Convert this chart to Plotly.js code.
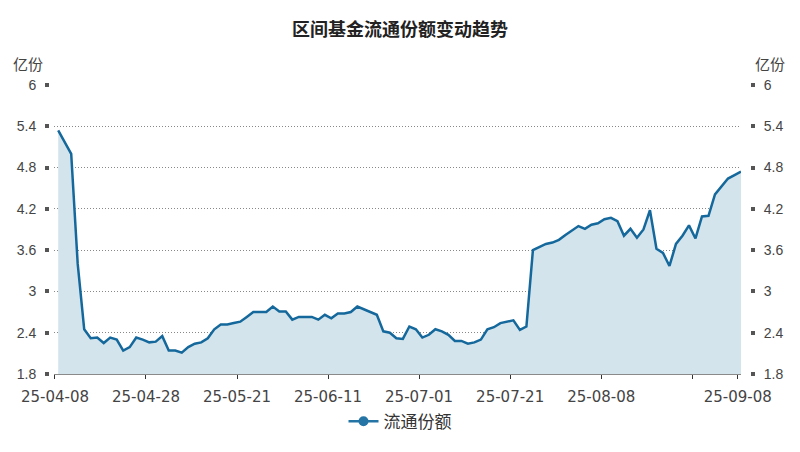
<!DOCTYPE html>
<html>
<head>
<meta charset="utf-8">
<script src="https://cdn.plot.ly/plotly-3.0.1.min.js"></script>
<style>html,body{margin:0;padding:0;background:#fff;}#chart{width:800px;height:452px;}</style>
</head>
<body>
<div id="chart"></div>
<script>
// trading dates (YY-MM-DD)
const dates = [
 "25-04-08","25-04-09","25-04-10","25-04-11","25-04-14","25-04-15","25-04-16","25-04-17","25-04-18","25-04-21",
 "25-04-22","25-04-23","25-04-24","25-04-25","25-04-28","25-04-29","25-04-30","25-05-06","25-05-07","25-05-08",
 "25-05-09","25-05-12","25-05-13","25-05-14","25-05-15","25-05-16","25-05-19","25-05-20","25-05-21","25-05-22",
 "25-05-23","25-05-26","25-05-27","25-05-28","25-05-29","25-05-30","25-06-03","25-06-04","25-06-05","25-06-06",
 "25-06-09","25-06-10","25-06-11","25-06-12","25-06-13","25-06-16","25-06-17","25-06-18","25-06-19","25-06-20",
 "25-06-23","25-06-24","25-06-25","25-06-26","25-06-27","25-06-30","25-07-01","25-07-02","25-07-03","25-07-04",
 "25-07-07","25-07-08","25-07-09","25-07-10","25-07-11","25-07-14","25-07-15","25-07-16","25-07-17","25-07-18",
 "25-07-21","25-07-22","25-07-23","25-07-24","25-07-25","25-07-28","25-07-29","25-07-30","25-07-31","25-08-01",
 "25-08-04","25-08-05","25-08-06","25-08-07","25-08-08","25-08-11","25-08-12","25-08-13","25-08-14","25-08-15",
 "25-08-18","25-08-19","25-08-20","25-08-21","25-08-22","25-08-25","25-08-26","25-08-27","25-08-28","25-08-29",
 "25-09-01","25-09-02","25-09-03","25-09-04","25-09-05","25-09-08"
];
// 流通份额 (亿份)
const shares = [
 5.34,5.17,5.00,3.40,2.45,2.32,2.33,2.25,2.33,2.30,
 2.14,2.19,2.33,2.30,2.26,2.27,2.35,2.14,2.14,2.11,
 2.19,2.24,2.26,2.32,2.45,2.52,2.52,2.54,2.56,2.63,
 2.70,2.70,2.70,2.78,2.71,2.71,2.59,2.63,2.63,2.63,
 2.59,2.66,2.61,2.68,2.68,2.70,2.78,2.74,2.70,2.66,
 2.42,2.40,2.32,2.31,2.49,2.45,2.33,2.37,2.45,2.42,
 2.37,2.28,2.28,2.24,2.26,2.30,2.45,2.48,2.54,2.56,
 2.58,2.44,2.49,3.60,3.65,3.69,3.71,3.75,3.82,3.88,
 3.95,3.91,3.97,3.99,4.05,4.07,4.02,3.81,3.91,3.78,
 3.90,4.18,3.62,3.56,3.37,3.69,3.81,3.96,3.77,4.09,
 4.10,4.41,4.53,4.64,4.69,4.74
];
const seriesName = "流通份额";
const titleText = "区间基金流通份额变动趋势";
const unitText = "亿份";
const xTickIdx = [0,14,28,42,56,70,84,98,105];
const xTickLabels = ["25-04-08","25-04-28","25-05-21","25-06-11","25-07-01","25-07-21","25-08-08","","25-09-08"];
const yTicks = [1.8,2.4,3,3.6,4.2,4.8,5.4,6];
const yTickLabels = ["1.8","2.4","3","3.6","4.2","4.8","5.4","6"];

const idx = dates.map((d,i)=>i);
const lineColor = "#15689b";
const font = "Liberation Sans, Arial, Noto Sans CJK SC, sans-serif";
const cjk = "Noto Sans CJK SC, sans-serif";

const traces = [
 {x: idx, y: shares, type:"scatter", mode:"lines", name: seriesName, showlegend:false,
  text: dates, hovertemplate:"%{text}: %{y}<extra></extra>",
  line:{color:lineColor, width:2.5}, fill:"tozeroy", fillcolor:"#d3e4ed"},
 {x: idx, y: shares, type:"scatter", mode:"lines", yaxis:"y2", showlegend:false, hoverinfo:"skip",
  line:{color:"rgba(0,0,0,0)", width:0}},
 {x:[null], y:[null], type:"scatter", mode:"lines+markers", name: seriesName,
  line:{color:"#2474a6", width:2.5}, marker:{color:"#2474a6", size:10}}
];

const L=44, R=44, T=85, B=76, PW=800-L-R, PH=452-T-B;
const px = v => (v-L)/PW;
const py = v => (452-B-v)/PH;

const yCommon = {
 range:[1.8,6], tickmode:"array", tickvals:yTicks, ticktext:yTickLabels,
 ticks:"outside", ticklen:4, tickwidth:4, tickcolor:"#555",
 zeroline:false, showline:false, fixedrange:true, ticklabelstandoff:6,
 tickfont:{family:font, size:14, color:"#444"}
};

const layout = {
 width:800, height:452,
 margin:{l:L, r:R, t:T, b:B},
 paper_bgcolor:"#fff", plot_bgcolor:"#fff",
 font:{family:font, color:"#333"},
 title:{text:titleText, x:0.5, xanchor:"center", y:1-30/452, yanchor:"middle", yref:"container",
  font:{family:cjk, size:18, color:"#222", weight:700}},
 showlegend:true,
 legend:{orientation:"h", x:0.5, xanchor:"center", y:py(424), yanchor:"middle",
  font:{family:cjk, size:17, color:"#333"}},
 xaxis:{
  domain:[px(54.3), px(741)], range:[-0.6,105],
  tickmode:"array", tickvals:xTickIdx.map(i=>i===105?104.5:i-0.5), ticktext:xTickLabels,
  ticks:"outside", ticklen:4, tickcolor:"#333", tickwidth:1, ticklabelstandoff:5,
  showline:true, linecolor:"#8a8a8a", linewidth:1,
  showgrid:false, zeroline:false, fixedrange:true,
  tickfont:{family:"DejaVu Sans, sans-serif", size:15, color:"#444"}
 },
 yaxis:Object.assign({}, yCommon, {anchor:"free", position:px(49), side:"left",
  showgrid:true, gridcolor:"#888", griddash:"1px,2px", gridwidth:1}),
 yaxis2:Object.assign({}, yCommon, {anchor:"free", position:px(750), side:"right", overlaying:"y",
  showgrid:false}),
 annotations:[
  {text:unitText, xref:"paper", yref:"paper", x:px(28), y:py(63), showarrow:false,
   xanchor:"center", yanchor:"middle", font:{family:cjk, size:15, color:"#444"}},
  {text:unitText, xref:"paper", yref:"paper", x:px(770), y:py(63), showarrow:false,
   xanchor:"center", yanchor:"middle", font:{family:cjk, size:15, color:"#444"}}
 ]
};

Plotly.newPlot("chart", traces, layout, {displayModeBar:false, staticPlot:true});
</script>
</body>
</html>
